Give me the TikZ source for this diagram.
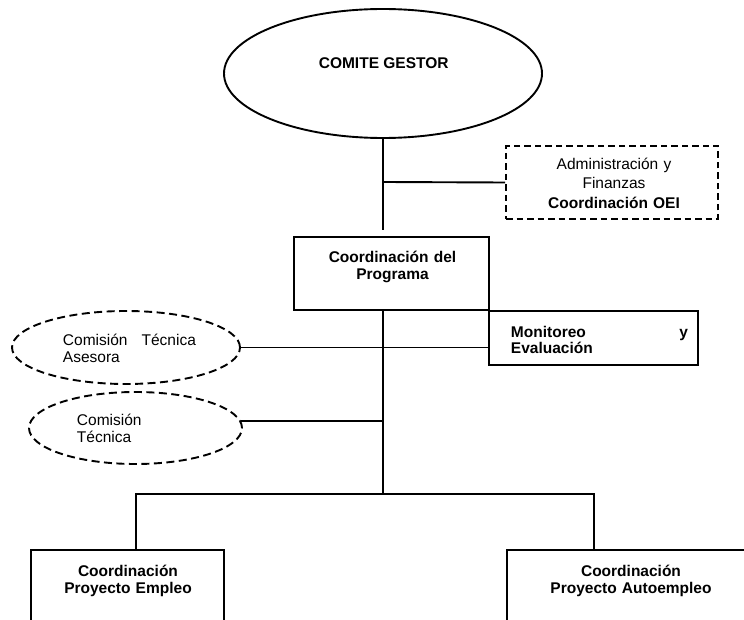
\documentclass[tikz,border=0pt]{standalone}
\usepackage{fontspec}
\setmainfont{Liberation Sans}
\usetikzlibrary{shapes.geometric}
\begin{document}
\begin{tikzpicture}[x=1pt,y=-1pt,
  line width=1.9pt,
  lbl/.style={font=\fontsize{15.5}{17.5}\selectfont, inner sep=0pt, align=center},
  lblb/.style={lbl, font=\fontsize{15.5}{17}\selectfont\bfseries},
  solidbox/.style={draw, rectangle, inner sep=0pt},
  dashbox/.style={draw, rectangle, dash pattern=on 6.5pt off 4pt, inner sep=0pt},
  dashoval/.style={draw, ellipse, dash pattern=on 8pt off 4.5pt, inner sep=0pt},
  link/.style={draw, line join=miter}]
\useasboundingbox (0,0) rectangle (744,620);
\clip (0,0) rectangle (744,620);

% top committee
\node[draw, ellipse, minimum width=318pt, minimum height=129pt, inner sep=0pt] (gestor) at (383,73.5) {};
\node[lblb, anchor=base] (gestor-t) at (383.7,68.3) {COMITE GESTOR};

% administration (dashed support unit)
\node[dashbox, minimum width=212pt, minimum height=73pt] (adm) at (612,182.5) {};
\node[lbl, font=\fontsize{15.5}{19.5}\selectfont, anchor=base, text width=212pt] (adm-t) at (614,169.5)
  {Administración y\\Finanzas\\\textbf{Coordinación OEI}};

% programme coordination
\node[solidbox, minimum width=195pt, minimum height=73pt] (prog) at (391.5,273.5) {};
\node[lblb, anchor=base, text width=195pt] (prog-t) at (392.5,263) {Coordinación del\\Programa};

% monitoring
\node[solidbox, minimum width=209pt, minimum height=54pt] (mon) at (593.5,338) {};
\node[lblb, anchor=base west, text width=177pt, align=left] (mon-t) at (510,337)
  {\hbox to 177pt{Monitoreo\hfill y}\\Evaluación};

% advisory commissions
\node[dashoval, minimum width=228pt, minimum height=73pt] (asesora) at (126,347.5) {};
\node[lbl, anchor=base west, text width=133pt, align=left] (asesora-t) at (62,345)
  {\hbox to 133pt{Comisión\hfill Técnica}\\Asesora};

\node[dashoval, minimum width=213pt, minimum height=72pt] (tecnica) at (135.5,428) {};
\node[lbl, anchor=base west, text width=100pt, align=left] (tecnica-t) at (76,425) {Comisión\\Técnica};

% project coordinations
\node[solidbox, anchor=north west, minimum width=193pt, minimum height=130pt] (empleo) at (30,549) {};
\node[lblb, anchor=base, text width=193pt] (empleo-t) at (128,576) {Coordinación\\Proyecto Empleo};

\node[solidbox, anchor=north west, minimum width=250pt, minimum height=130pt] (auto) at (506,549) {};
\node[lblb, anchor=base, text width=250pt] (auto-t) at (631,576) {Coordinación\\Proyecto Autoempleo};

% junction points
\coordinate (stub) at (383,230);
\coordinate (j1) at (383,182);
\coordinate (hub) at (383,494);
\coordinate (busL) at (135.7,494);
\coordinate (busR) at (594,494);

% connectors
\path[link] (gestor.south) -- (stub);
\path[link] (j1) -- (adm.west);
\path[link] (prog.south -| hub) -- (hub);
\path[link] (asesora.east) -- (asesora.east -| mon.west);
\path[link] (tecnica.4) -- (tecnica.4 -| hub);
\path[link] (busL |- empleo.north) -- (busL) -- (busR) -- (busR |- auto.north);
\end{tikzpicture}
\end{document}
